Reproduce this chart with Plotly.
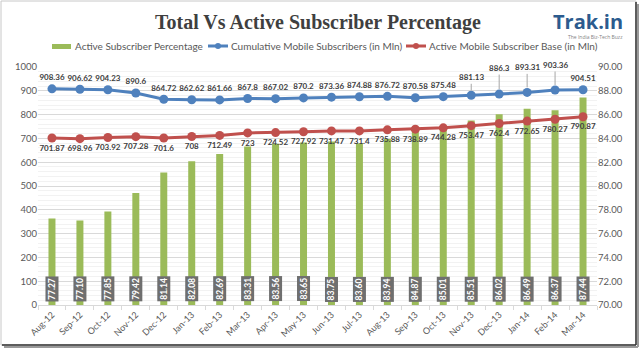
import plotly.graph_objects as go

months = ["Aug-12", "Sep-12", "Oct-12", "Nov-12", "Dec-12", "Jan-13", "Feb-13", "Mar-13",
          "Apr-13", "May-13", "Jun-13", "Jul-13", "Aug-13", "Sep-13", "Oct-13", "Nov-13",
          "Dec-13", "Jan-14", "Feb-14", "Mar-14"]
active_pct = [77.27, 77.10, 77.85, 79.42, 81.14, 82.08, 82.69, 83.31, 83.56, 83.65,
              83.75, 83.60, 83.94, 84.87, 85.01, 85.51, 86.02, 86.49, 86.37, 87.44]
cumulative = [908.36, 906.62, 904.23, 890.6, 864.72, 862.62, 861.66, 867.8, 867.02, 870.2,
              873.36, 874.88, 876.72, 870.58, 875.48, 881.13, 886.3, 893.31, 903.36, 904.51]
active_base = [701.87, 698.96, 703.92, 707.28, 701.6, 708, 712.49, 723, 724.52, 727.92,
               731.47, 731.4, 735.88, 738.89, 744.28, 753.47, 762.4, 772.65, 780.27, 790.87]
series_names = ["Active Subscriber Percentage", "Cumulative Mobile Subscribers (in Mln)",
                "Active Mobile Subscriber Base (in Mln)"]
colors = ["#9bbb59", "#4f81bd", "#c0504d"]
# labels pulled away from their points with leader lines: index -> pixel offset
leader_idx = {15: -18, 16: -26, 17: -25, 18: -25}

W, H = 640, 350
ML, MR, MT, MB = 38, 43, 67, 45
PW, PH = W - ML - MR, H - MT - MB


def px(x):
    return (x - ML) / PW


def py(y):
    return (H - MB - y) / PH


FONT = "Lato"
TXT = "#404040"
AX = "#595959"


def fmt(v):
    return ("%.2f" % v).rstrip("0").rstrip(".")


blue_text = ["" if i in leader_idx else fmt(v) for i, v in enumerate(cumulative)]
LBL = dict(family=FONT, size=8, color=TXT, weight="bold")

fig = go.Figure()
fig.add_trace(go.Bar(
    x=months, y=active_pct, name=series_names[0],
    marker=dict(color=colors[0], line=dict(width=0)), width=0.25, yaxis="y",
))
fig.add_trace(go.Scatter(
    x=months, y=cumulative, name=series_names[1],
    mode="lines+markers+text", text=blue_text, textposition="top center",
    textfont=LBL,
    line=dict(color=colors[1], width=3), marker=dict(size=9, color=colors[1]),
    yaxis="y2", cliponaxis=False,
))
fig.add_trace(go.Scatter(
    x=months, y=active_base, name=series_names[2],
    mode="lines+markers+text", text=[fmt(v) for v in active_base], textposition="bottom center",
    textfont=LBL,
    line=dict(color=colors[2], width=3), marker=dict(size=9, color=colors[2]),
    yaxis="y2", cliponaxis=False,
))

annotations = []
for i, off in leader_idx.items():
    annotations.append(dict(
        x=months[i], y=cumulative[i], xref="x", yref="y2", text=fmt(cumulative[i]),
        showarrow=True, arrowhead=0, arrowwidth=1, arrowcolor="#a6a6a6",
        ax=0, ay=off, standoff=5, font=LBL,
    ))
for m, v in zip(months, active_pct):
    annotations.append(dict(
        x=m, y=70, xref="x", yref="y", text="<b>%.2f</b>" % v, showarrow=False,
        textangle=-90, yanchor="bottom", yshift=3, bgcolor="#6f6f6f", borderpad=1,
        font=dict(family=FONT, size=8.5, color="white"),
    ))
annotations.append(dict(
    x=0.5, y=py(22), xref="paper", yref="paper", text="<b>Total Vs Active Subscriber Percentage</b>",
    showarrow=False, font=dict(family="Liberation Serif", size=20, color="#3f3f3f"),
    xanchor="center", yanchor="middle"))
annotations.append(dict(
    x=px(625), y=py(21), xref="paper", yref="paper", text="<b>Trak.in</b>",
    showarrow=False, xanchor="right", yanchor="middle",
    font=dict(family="Open Sans", size=20, color="#2c5b8e")))
annotations.append(dict(
    x=px(625), y=py(37), xref="paper", yref="paper", text="The India Biz-Tech Buzz",
    showarrow=False, xanchor="right", yanchor="middle",
    font=dict(family="Open Sans", size=5, color="#7f7f7f")))

shapes = [
    dict(type="rect", xref="paper", yref="paper", x0=px(1), x1=px(636), y0=py(345), y1=py(1),
         line=dict(color="#c8c8c8", width=1)),
    dict(type="line", xref="paper", yref="paper", x0=px(638), x1=px(638), y0=py(347), y1=py(4),
         line=dict(color="#9a9a9a", width=2)),
    dict(type="line", xref="paper", yref="paper", x0=px(4), x1=px(638), y0=py(347), y1=py(347),
         line=dict(color="#9a9a9a", width=2)),
    dict(type="line", xref="paper", yref="paper", x0=px(636), x1=px(636), y0=py(345), y1=py(2),
         line=dict(color="#303030", width=1.5)),
    dict(type="line", xref="paper", yref="paper", x0=px(2), x1=px(636), y0=py(345), y1=py(345),
         line=dict(color="#303030", width=1.5)),
]

# legend drawn by hand so it stays on one row like the reference
LEG_Y = 46
leg_x = [52, 208, 406]
shapes.append(dict(type="rect", xref="paper", yref="paper", x0=px(leg_x[0]), x1=px(leg_x[0] + 19),
                   y0=py(LEG_Y + 3), y1=py(LEG_Y - 2), fillcolor=colors[0], line=dict(width=0)))
for k in (1, 2):
    x0 = leg_x[k]
    shapes.append(dict(type="line", xref="paper", yref="paper", x0=px(x0), x1=px(x0 + 20),
                       y0=py(LEG_Y), y1=py(LEG_Y), line=dict(color=colors[k], width=3)))
    shapes.append(dict(type="circle", xref="paper", yref="paper", x0=px(x0 + 7), x1=px(x0 + 13),
                       y0=py(LEG_Y + 3), y1=py(LEG_Y - 3), fillcolor=colors[k],
                       line=dict(color=colors[k], width=0)))
for k in range(3):
    annotations.append(dict(
        x=px(leg_x[k] + 21), y=py(LEG_Y), xref="paper", yref="paper", text=series_names[k],
        showarrow=False, xanchor="left", yanchor="middle",
        font=dict(family=FONT, size=10, color=AX)))

fig.update_layout(
    width=W, height=H, margin=dict(l=ML, r=MR, t=MT, b=MB),
    paper_bgcolor="white", plot_bgcolor="white", shapes=shapes, annotations=annotations,
    showlegend=False,
    xaxis=dict(type="category", tickangle=-45, tickfont=dict(family=FONT, size=9, color=AX),
               showline=True, linecolor="#d9d9d9", ticks="outside", tickson="boundaries",
               ticklen=4, tickcolor="#d9d9d9", showgrid=False, range=[-0.5, 19.5]),
    yaxis=dict(side="right", range=[70, 90], dtick=2, tickformat=".2f",
               tickfont=dict(family=FONT, size=9.5, color=AX), showgrid=True, gridcolor="#d9d9d9",
               minor=dict(dtick=0.4, showgrid=True, gridcolor="#f2f2f2"), zeroline=False,
               ticks="", fixedrange=True),
    yaxis2=dict(side="left", overlaying="y", range=[0, 1000], dtick=100,
                tickfont=dict(family=FONT, size=9.5, color=AX), showgrid=False, zeroline=False,
                ticks=""),
    bargap=0.75,
)

fig.write_html("out.html")
